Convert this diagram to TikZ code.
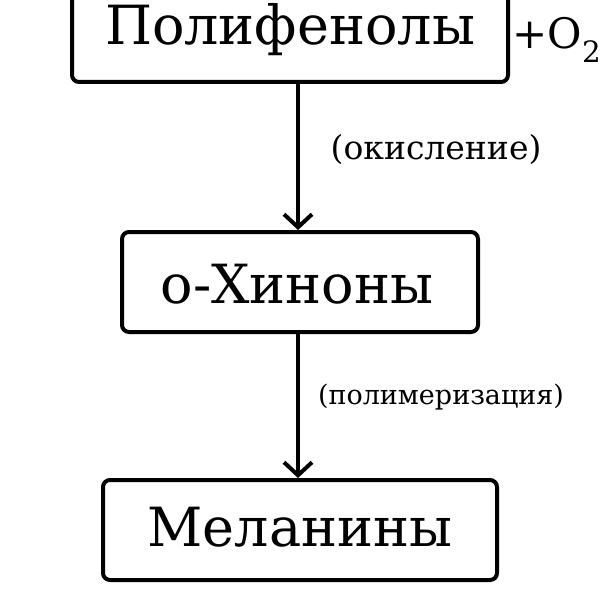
\documentclass[tikz,border=0pt]{standalone}
\usepackage{fontspec}
\setmainfont{DejaVu Serif}
\usetikzlibrary{arrows.meta}
\begin{document}
\begin{tikzpicture}[x=1pt,y=1pt,
  box/.style={draw,line width=4pt,rounded corners=7pt,inner sep=0pt},
  arr/.style={line width=4pt,-{Straight Barb[length=13pt,width=28pt,line width=4pt]}}]
\useasboundingbox (0,0) rectangle (601,-596);
\node[box,minimum width=436pt,minimum height=100pt] (a) at (290,-32) {};
\node at (290,-30) {\fontsize{54}{64}\selectfont Полифенолы};
\node[box,minimum width=356pt,minimum height=100pt] (b) at (300,-282) {};
\node at (297,-284) {\fontsize{54}{64}\selectfont о-Хиноны};
\node[box,minimum width=394pt,minimum height=100pt] (c) at (300,-530) {};
\node at (300,-527) {\fontsize{54}{64}\selectfont Меланины};
\node[inner sep=0pt] at (557,-40) {\fontsize{42}{50}\selectfont +O\textsubscript{2}};
\draw[arr] (a.south -| 298,0) -- (b.north -| 298,0);
\draw[arr] (b.south -| 298,0) -- (c.north -| 298,0);
\node at (436,-150) {\fontsize{33}{40}\selectfont (окисление)};
\node at (441,-397) {\fontsize{27}{32}\selectfont (полимеризация)};
\end{tikzpicture}
\end{document}
